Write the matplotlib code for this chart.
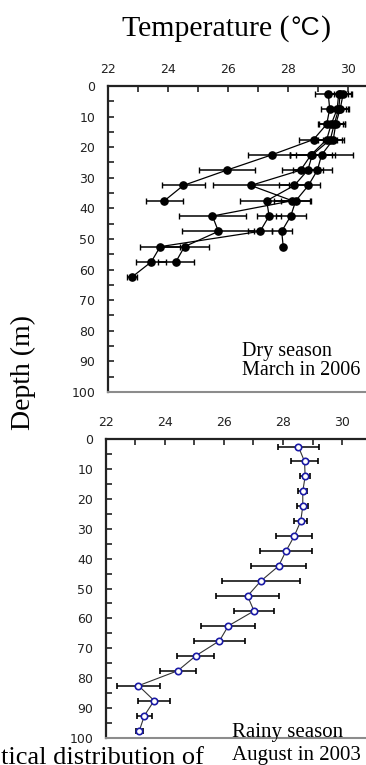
import numpy as np
import matplotlib
matplotlib.use('Agg')
import matplotlib.pyplot as plt
from matplotlib.ticker import MultipleLocator

# datos: perfiles de temperatura (dry season, 4 perfiles)
dep_a = [2.5, 7.5, 12.5, 17.5, 22.5, 27.5, 32.5, 37.5]
tem_a = [29.35, 29.40, 29.30, 28.86, 27.47, 25.97, 24.52, 23.89]
err_a = [0.45, 0.30, 0.30, 0.50, 0.80, 0.94, 0.72, 0.63]

dep_b = [2.5, 7.5, 12.5, 17.5, 22.5, 27.5, 32.5, 37.5, 42.5, 47.5, 52.5, 57.5]
tem_b = [29.70, 29.65, 29.45, 29.30, 28.78, 28.43, 26.77, 28.15, 25.49, 25.69, 24.56, 24.27]
err_b = [0.30, 0.30, 0.40, 0.35, 0.70, 0.63, 1.27, 0.60, 1.12, 1.20, 0.80, 0.60]

dep_c = [2.5, 7.5, 12.5, 17.5, 22.5, 27.5, 32.5, 37.5, 42.5, 47.5, 52.5, 57.5, 62.5]
tem_c = [29.75, 29.70, 29.55, 29.42, 28.82, 28.67, 28.22, 27.30, 27.38, 27.08, 23.75, 23.45, 22.80]
err_c = [0.35, 0.30, 0.35, 0.40, 0.75, 0.50, 0.50, 0.90, 0.40, 0.40, 0.67, 0.50, 0.17]

dep_d = [2.5, 7.5, 12.5, 17.5, 22.5, 27.5, 32.5, 37.5, 42.5, 47.5, 52.5]
tem_d = [29.85, 29.75, 29.60, 29.52, 29.13, 28.99, 28.69, 28.27, 28.10, 27.80, 27.85]
err_d = [0.30, 0.30, 0.30, 0.35, 1.05, 0.50, 0.40, 0.50, 0.50, 0.33, 0.0]

# rainy season (un solo perfil)
dep_r = [2.5, 7.5, 12.5, 17.5, 22.5, 27.5, 32.5, 37.5, 42.5, 47.5,
         52.5, 57.5, 62.5, 67.5, 72.5, 77.5, 82.5, 87.5, 92.5, 97.5]
tem_r = [28.52, 28.73, 28.75, 28.67, 28.67, 28.60, 28.38, 28.10, 27.85, 27.25,
         26.80, 27.02, 26.15, 25.85, 25.05, 24.44, 23.11, 23.64, 23.31, 23.14]
err_r = [0.70, 0.47, 0.17, 0.16, 0.19, 0.23, 0.60, 0.87, 0.92, 1.33,
         1.06, 0.69, 0.91, 0.87, 0.63, 0.60, 0.72, 0.54, 0.25, 0.11]

xticks = [22, 24, 26, 28, 30]
yticks = [0, 10, 20, 30, 40, 50, 60, 70, 80, 90, 100]

serif = 'Liberation Serif'


def style_axis(ax, xmax):
    ax.set_xlim(22, xmax)
    ax.set_ylim(100, 0)
    ax.xaxis.tick_top()
    ax.set_xticks(xticks)
    ax.set_yticks(yticks)
    ax.xaxis.set_minor_locator(MultipleLocator(1))
    ax.yaxis.set_minor_locator(MultipleLocator(5))
    ax.tick_params(axis='x', which='both', direction='in', length=4, width=1.2,
                   color='#222222', pad=7, labelsize=9, labelcolor='#222222')
    ax.tick_params(axis='y', which='both', direction='in', length=4, width=1.2,
                   color='#222222', pad=9, labelsize=9, labelcolor='#222222')
    ax.spines['right'].set_visible(False)
    ax.spines['left'].set_linewidth(1.6)
    ax.spines['left'].set_color('#222222')
    ax.spines['top'].set_linewidth(1.6)
    ax.spines['top'].set_color('#222222')
    ax.spines['bottom'].set_linewidth(1.5)
    ax.spines['bottom'].set_color('#8c8c8c')


fig = plt.figure(figsize=(3.66, 7.65), dpi=100)

# panel superior: dry season
ax1 = fig.add_axes([0.2943, 0.4876, 0.7057, 0.4000])
for t, d, e in [(tem_a, dep_a, err_a), (tem_b, dep_b, err_b),
                (tem_c, dep_c, err_c), (tem_d, dep_d, err_d)]:
    ax1.errorbar(t, d, xerr=e, fmt='-o', color='black', ms=5.2, lw=0.9,
                 elinewidth=1.1, capsize=2.2, capthick=1.0, mfc='black', mec='black')
style_axis(ax1, 30.61)
ax1.text(0.519, 0.055, 'Dry season\nMarch in 2006', transform=ax1.transAxes,
         family=serif, fontsize=14.5, ha='left', va='baseline', linespacing=1.0)

# panel inferior: rainy season
ax2 = fig.add_axes([0.2888, 0.0353, 0.7112, 0.3908])
ax2.errorbar(tem_r, dep_r, xerr=err_r, fmt='-o', color='#333333', ms=4.6, lw=0.8,
             elinewidth=1.1, capsize=2.2, capthick=1.0, mfc='white', mec='#1a1aa6',
             mew=1.2, ecolor='black')
style_axis(ax2, 30.81)

# titulo: "Temperature (" en serif, "°C" en sans, ")" en serif
renderer = fig.canvas.get_renderer()
ty = 0.963
t1 = fig.text(0.333, ty, 'Temperature (', family=serif, fontsize=21.5,
              ha='left', va='center')
bb = t1.get_window_extent(renderer)
t2 = fig.text(bb.x1 / fig.bbox.width + 0.002, ty, '\u00b0C', family='Liberation Sans',
              fontsize=19, ha='left', va='center')
bb = t2.get_window_extent(renderer)
fig.text(bb.x1 / fig.bbox.width + 0.004, ty, ')', family=serif, fontsize=21.5,
         ha='left', va='center')

fig.text(0.065, 0.513, 'Depth (m)', family=serif, fontsize=20, rotation=90,
         ha='center', va='center')
fig.text(0.633, 1 - 737 / 765, 'Rainy season', family=serif, fontsize=15,
         ha='left', va='baseline')
fig.text(0.633, 1 - 760 / 765, 'August in 2003', family=serif, fontsize=15,
         ha='left', va='baseline')
# pie de figura recortado en el borde inferior (como en el original)
fig.text(0.003, 1 - 764 / 765, 'tical distribution of', family=serif, fontsize=19,
         ha='left', va='baseline')

plt.savefig('out.png', dpi=100)
